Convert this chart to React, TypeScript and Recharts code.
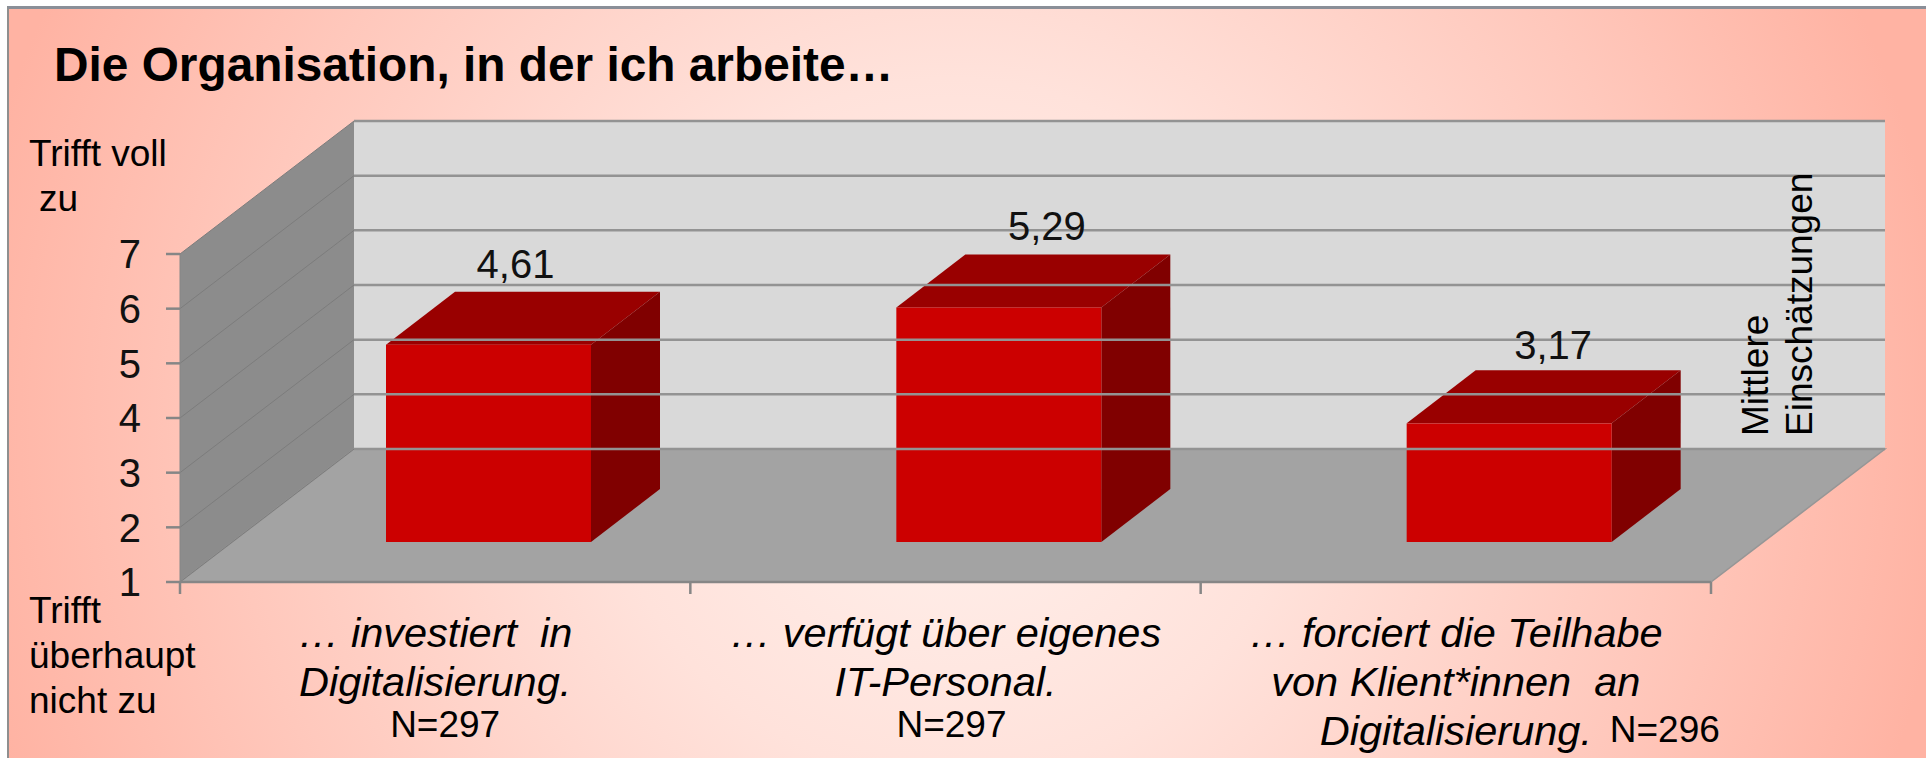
import { BarChart, Bar, XAxis, YAxis, LabelList, ReferenceArea, ReferenceLine } from "recharts"

// Values and labels
const categoryLines = [
  ["… investiert  in", "Digitalisierung."],
  ["… verfügt über eigenes", "IT-Personal."],
  ["… forciert die Teilhabe", "von Klient*innen  an", "Digitalisierung."],
]
const meanValues = [4.61, 5.29, 3.17]
const sampleLabels = ["N=297", "N=297", "N=296"]
const yTicks = [1, 2, 3, 4, 5, 6, 7]

const data = categoryLines.map((lines, i) => ({
  category: lines.join(" "),
  value: meanValues[i],
}))

// 3D look of the old office chart
const WALL_DX = 174
const WALL_DY = -133
const BAR_SHIFT_X = 53
const BAR_SHIFT_Y = -40
const BAR_DX = 69
const BAR_DY = -53
const LABEL_NUDGE = [-42, -21, -25]
const LABEL_RISE = [14, 14, 11]
const SAMPLE_NUDGE = [{ dx: 10, y: 737 }, { dx: 6, y: 737 }, { dx: 209, y: 742 }]

const FONT = "'Liberation Sans', Arial, sans-serif"
const pts = (list: number[][]) => list.map(p => p.join(",")).join(" ")

function Room({ x, y, width, height }: any) {
  const bottom = y + height
  const right = x + width
  const step = width / categoryLines.length
  return (
    <g>
      <polygon
        points={pts([[x + WALL_DX, y + WALL_DY], [right + WALL_DX, y + WALL_DY], [right + WALL_DX, bottom + WALL_DY], [x + WALL_DX, bottom + WALL_DY]])}
        fill="#d9d9d9"
      />
      <polygon
        points={pts([[x, y], [x + WALL_DX, y + WALL_DY], [x + WALL_DX, bottom + WALL_DY], [x, bottom]])}
        fill="#8c8c8c"
      />
      <polygon
        points={pts([[x, bottom], [x + WALL_DX, bottom + WALL_DY], [right + WALL_DX, bottom + WALL_DY], [right, bottom]])}
        fill="#a3a3a3"
        stroke="#969696"
        strokeWidth={1.5}
      />
      {[0, 1, 2, 3].map(i => (
        <line key={i} x1={x + i * step} x2={x + i * step} y1={bottom} y2={bottom + 12} stroke="#868686" strokeWidth={2.5} />
      ))}
    </g>
  )
}

function WallGridLine({ x1, y1, x2 }: any) {
  return (
    <g>
      <line x1={x1} y1={y1} x2={x1 + WALL_DX} y2={y1 + WALL_DY} stroke="#7c7c7c" strokeWidth={1} />
      <line x1={x1 + WALL_DX} y1={y1 + WALL_DY} x2={x2 + WALL_DX} y2={y1 + WALL_DY} stroke="#939393" strokeWidth={2.5} />
    </g>
  )
}

function Box3D({ x, y, width, height }: any) {
  const left = x + BAR_SHIFT_X
  const right = left + width
  const top = y + BAR_SHIFT_Y
  const bottom = top + height
  return (
    <g>
      <polygon points={pts([[left, top], [left + BAR_DX, top + BAR_DY], [right + BAR_DX, top + BAR_DY], [right, top]])} fill="#990000" />
      <polygon points={pts([[right, top], [right + BAR_DX, top + BAR_DY], [right + BAR_DX, bottom + BAR_DY], [right, bottom]])} fill="#800000" />
      <rect x={left} y={top} width={width} height={height} fill="#cc0000" />
    </g>
  )
}

function ValueLabel({ x, y, width, index, value }: any) {
  const cx = x + width / 2 + BAR_SHIFT_X + BAR_DX + LABEL_NUDGE[index]
  const baseline = y + BAR_SHIFT_Y + BAR_DY - LABEL_RISE[index]
  return (
    <text x={cx} y={baseline} textAnchor="middle" fontFamily={FONT} fontSize={40} fill="#111">
      {String(value).replace(".", ",")}
    </text>
  )
}

function CategoryTick({ x, index }: any) {
  const lines = categoryLines[index]
  const sample = SAMPLE_NUDGE[index]
  return (
    <g fontFamily={FONT} fill="#000">
      {lines.map((line, i) => (
        <text key={i} x={x} y={647 + i * 49} textAnchor="middle" fontSize={41.5} fontStyle="italic" style={{ whiteSpace: "pre" }}>
          {line}
        </text>
      ))}
      <text x={x + sample.dx} y={sample.y} textAnchor="middle" fontSize={37}>
        {sampleLabels[index]}
      </text>
    </g>
  )
}

export default function App() {
  return (
    <div style={{ position: "absolute", left: 0, top: 0, width: 1926, height: 759, background: "#fff", overflow: "hidden" }}>
      <div
        style={{
          position: "absolute",
          left: 7,
          top: 6,
          width: 1919,
          height: 752,
          boxSizing: "border-box",
          borderLeft: "2px solid #8f8f8f",
          borderTop: "3px solid #8a8f98",
          background: "radial-gradient(ellipse 1000px 1000px at 943px 420px, #fff2ee 0%, #ffe2db 35%, #ffc8bc 72%, #ffb3a3 100%)",
        }}
      />
      <div style={{ position: "absolute", left: 0, top: 0 }}>
        <BarChart
          width={1926}
          height={759}
          data={data}
          margin={{ top: 254, right: 215, bottom: 77, left: 100 }}
        >
          <XAxis
            dataKey="category"
            interval={0}
            height={100}
            tickLine={false}
            axisLine={{ stroke: "#868686", strokeWidth: 2.5 }}
            tick={(props: any) => <CategoryTick {...props} />}
          />
          <YAxis
            width={80}
            domain={[1, 7]}
            ticks={yTicks}
            tickSize={14}
            tickMargin={25}
            axisLine={{ stroke: "#868686", strokeWidth: 1 }}
            tickLine={{ stroke: "#868686", strokeWidth: 2.5 }}
            tick={{ fontSize: 40, fontFamily: FONT, fill: "#111" }}
          />
          <ReferenceArea y1={1} y2={7} shape={(props: any) => <Room {...props} />} />
          {yTicks.map(t => (
            <ReferenceLine key={t} y={t} shape={(props: any) => <WallGridLine {...props} />} />
          ))}
          <Bar dataKey="value" barSize={205} isAnimationActive={false} shape={(props: any) => <Box3D {...props} />}>
            <LabelList dataKey="value" content={(props: any) => <ValueLabel {...props} />} />
          </Bar>
        </BarChart>
      </div>
      <svg width={1926} height={759} style={{ position: "absolute", left: 0, top: 0, pointerEvents: "none" }} fontFamily={FONT} fill="#000">
        <text x={54} y={81} fontSize={47.8} fontWeight="bold">Die Organisation, in der ich arbeite…</text>
        <text x={29} y={166} fontSize={37}>Trifft voll</text>
        <text x={39} y={211} fontSize={37}>zu</text>
        <text x={29} y={623} fontSize={37}>Trifft</text>
        <text x={29} y={668} fontSize={37}>überhaupt</text>
        <text x={29} y={713} fontSize={37}>nicht zu</text>
        <text transform="translate(1768,436) rotate(-90)" fontSize={37}>Mittlere</text>
        <text transform="translate(1812,436) rotate(-90)" fontSize={37}>Einschätzungen</text>
      </svg>
    </div>
  )
}
